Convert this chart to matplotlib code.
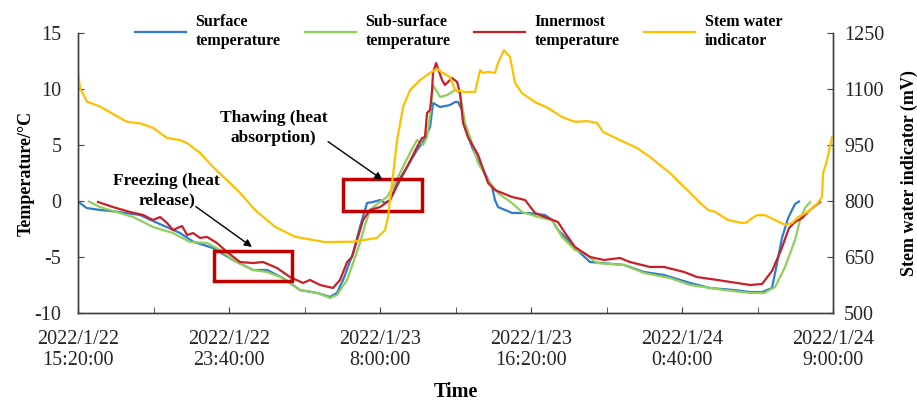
import pandas as pd
import numpy as np
import matplotlib
matplotlib.use('Agg')
import matplotlib.pyplot as plt
import matplotlib.dates as mdates
from matplotlib.patches import Rectangle

plt.rcParams['font.family'] = ['Liberation Serif', 'DejaVu Serif']
plt.rcParams['axes.unicode_minus'] = False

# elapsed hours since 2022/1/22 15:20:00, value
surface = [(0, -0.06), (0.48, -0.63), (1.21, -0.80), (2.15, -0.96), (3.42, -1.25), (4.14, -1.79),
           (5.63, -2.86), (6.35, -3.63), (7.45, -4.20), (8.55, -5.27), (9.66, -6.16), (10.43, -6.16),
           (11.31, -6.88), (12.25, -7.95), (13.19, -8.21), (13.91, -8.57), (14.29, -8.21), (14.63, -7.05),
           (15.18, -4.64), (15.56, -2.32), (15.95, -0.18), (16.28, -0.09), (16.67, 0.09), (16.94, -0.18),
           (17.22, 0.09), (17.61, 1.61), (18.16, 3.04), (18.71, 4.55), (19.04, 5.27), (19.43, 6.61),
           (19.59, 8.75), (19.98, 8.39), (20.53, 8.57), (20.81, 8.84), (20.97, 8.84), (21.19, 8.13),
           (21.36, 6.61), (21.74, 4.82), (22.08, 3.66), (22.85, 1.25), (23.01, 0.09), (23.18, -0.54),
           (23.57, -0.80), (23.95, -1.07), (24.84, -1.07), (25.77, -1.25), (26.16, -1.70), (26.49, -2.59),
           (27.04, -3.48), (27.54, -4.38), (28.26, -5.45), (30.13, -5.71), (31.24, -6.34), (32.34, -6.61),
           (33.78, -7.32), (34.88, -7.77), (36.20, -7.95), (37.09, -8.13), (37.75, -8.13), (38.30, -7.77),
           (38.58, -5.54), (38.85, -3.30), (39.19, -1.52), (39.57, -0.27), (39.79, -0.04)]

sub_surface = [(0.61, -0.06), (1.21, -0.54), (3.04, -1.43), (4.14, -2.32), (5.24, -2.86), (6.18, -3.66),
               (7.12, -3.75), (7.84, -4.38), (8.55, -5.27), (9.66, -6.16), (10.43, -6.34), (11.31, -6.88),
               (12.25, -7.95), (13.19, -8.21), (13.91, -8.66), (14.29, -8.39), (14.85, -7.05), (15.18, -5.54),
               (15.56, -3.75), (15.84, -2.14), (16.12, -0.80), (16.50, -0.27), (17.05, 0.36), (17.38, 1.25),
               (17.94, 3.04), (18.32, 4.29), (18.71, 5.45), (19.04, 5.00), (19.26, 5.71), (19.43, 7.68),
               (19.59, 10.36), (19.98, 9.29), (20.37, 9.46), (20.81, 9.91), (21.08, 9.64), (21.36, 6.96),
               (21.74, 5.18), (22.08, 3.39), (22.63, 1.88), (23.18, 0.71), (23.95, -0.18), (24.50, -0.98),
               (25.39, -1.43), (26.16, -1.70), (26.71, -3.21), (27.43, -4.38), (27.93, -4.64), (28.64, -5.54),
               (30.13, -5.71), (31.24, -6.43), (32.67, -6.88), (33.78, -7.50), (35.65, -7.95), (37.09, -8.21),
               (37.86, -8.21), (38.47, -7.68), (39.02, -5.89), (39.57, -3.48), (39.85, -1.70), (40.12, -0.63),
               (40.40, -0.09)]

innermost = [(1.10, -0.09), (1.93, -0.54), (2.87, -0.98), (3.59, -1.25), (4.14, -1.70), (4.53, -1.43),
             (4.91, -1.96), (5.24, -2.59), (5.74, -2.23), (6.02, -3.04), (6.35, -2.86), (6.73, -3.30),
             (7.12, -3.21), (7.67, -3.75), (8.22, -4.55), (8.94, -5.45), (9.66, -5.54), (10.21, -5.45),
             (10.98, -5.98), (11.70, -6.79), (12.42, -7.32), (12.80, -7.05), (13.36, -7.50), (14.07, -7.77),
             (14.46, -7.05), (14.85, -5.45), (15.12, -5.00), (15.40, -3.48), (15.73, -1.70), (16.12, -0.80),
             (16.67, -0.54), (17.22, 0.09), (17.77, 1.88), (18.16, 3.04), (18.71, 4.82), (18.99, 5.63),
             (19.15, 5.71), (19.26, 7.86), (19.43, 8.13), (19.54, 9.91), (19.59, 11.43), (19.76, 12.32),
             (20.09, 10.80), (20.25, 10.36), (20.64, 10.98), (20.92, 10.63), (21.08, 9.64), (21.25, 6.96),
             (21.52, 5.71), (22.08, 4.11), (22.63, 1.61), (23.01, 0.98), (23.95, 0.36), (24.67, 0.09),
             (25.22, -1.07), (25.77, -1.43), (26.49, -1.88), (26.88, -2.86), (27.43, -4.11), (28.26, -5.00),
             (29.03, -5.27), (29.91, -5.09), (30.46, -5.45), (31.57, -5.89), (32.34, -5.89), (33.45, -6.34),
             (34.16, -6.79), (35.27, -7.05), (36.37, -7.32), (37.09, -7.50), (37.75, -7.41), (38.30, -6.25),
             (38.80, -4.38), (39.24, -2.41), (39.57, -1.88), (39.96, -1.52), (40.40, -0.80), (40.95, -0.09)]

stem_water = [(0, 1145), (0.11, 1103), (0.50, 1066), (1.21, 1053), (2.70, 1012), (3.42, 1008), (4.14, 996),
              (4.53, 982), (4.91, 969), (5.63, 963), (6.02, 955), (6.73, 929), (7.45, 891), (8.22, 856),
              (8.94, 822), (9.77, 776), (10.87, 731), (11.98, 704), (13.63, 690), (15.18, 691), (16.50, 701),
              (16.94, 722), (17.11, 757), (17.33, 848), (17.61, 963), (17.94, 1052), (18.32, 1097),
              (18.88, 1124), (19.43, 1143), (19.81, 1154), (20.14, 1143), (20.53, 1132), (20.81, 1097),
              (21.36, 1092), (21.91, 1092), (22.19, 1151), (22.35, 1143), (22.63, 1146), (23.01, 1143),
              (23.18, 1170), (23.51, 1204), (23.84, 1186), (24.12, 1116), (24.50, 1089), (25.22, 1065),
              (25.94, 1049), (26.71, 1025), (27.43, 1012), (28.09, 1014), (28.64, 1009), (28.98, 985),
              (29.91, 963), (30.85, 942), (31.57, 918), (32.12, 896), (32.67, 875), (33.22, 848), (33.78, 822),
              (34.33, 795), (34.77, 776), (35.16, 771), (35.87, 749), (36.65, 741), (36.92, 743), (37.20, 754),
              (37.47, 762), (37.92, 762), (38.47, 749), (39.02, 736), (39.41, 741), (39.74, 757), (40.29, 771),
              (40.84, 795), (41.06, 811), (41.12, 875), (41.34, 910), (41.50, 945), (41.61, 971)]

start = pd.Timestamp('2022-01-22 15:20:00')
end = pd.Timestamp('2022-01-24 09:00:00')


def to_series(pairs):
    h, v = zip(*pairs)
    return start + pd.to_timedelta(np.array(h), unit='h'), np.array(v)


def tnum(hours):
    return mdates.date2num(start + pd.Timedelta(hours=hours))


fig = plt.figure(figsize=(9.17, 4.05), dpi=100)
ax = fig.add_axes([0.0851, 0.2272, 0.8233, 0.6913])
ax2 = ax.twinx()

t, v = to_series(surface)
l1, = ax.plot(t, v, color='#2E7BCF', lw=1.6, label='Surface\ntemperature')
t, v = to_series(sub_surface)
l2, = ax.plot(t, v, color='#8FD05A', lw=1.6, label='Sub-surface\ntemperature')
t, v = to_series(innermost)
l3, = ax.plot(t, v, color='#C8202A', lw=1.6, label='Innermost\ntemperature')
t, v = to_series(stem_water)
l4, = ax2.plot(t, v, color='#FFC000', lw=1.6, label='Stem water\nindicator')

ax.set_ylim(-10, 15)
ax.set_yticks(np.arange(-10, 16, 5))
ax2.set_ylim(500, 1250)
ax2.set_yticks(np.arange(500, 1251, 150))
ax.set_xlim(start, end)

major = pd.date_range(start, periods=6, freq='500min')
minor = pd.date_range(start + pd.Timedelta('250min'), periods=5, freq='500min')
ax.set_xticks(major)
ax.set_xticklabels(['%d/%d/%d\n%d:%02d:00' % (d.year, d.month, d.day, d.hour, d.minute) for d in major])
ax.set_xticks(minor, minor=True)

spine_c = '#404040'
for a in (ax, ax2):
    a.spines['top'].set_visible(False)
    for s in ('left', 'right', 'bottom'):
        a.spines[s].set_color(spine_c)
        a.spines[s].set_linewidth(1.0)
    a.tick_params(which='both', direction='in', length=4, color=spine_c, labelsize=14.5, labelcolor='#262626')
ax.tick_params(axis='x', pad=12)
ax.tick_params(axis='y', pad=12)
ax2.tick_params(axis='y', pad=8)

ax.set_xlabel('Time', fontsize=14.5, fontweight='bold', labelpad=8)
ax.set_ylabel('Temperature/°C', fontsize=13, fontweight='bold', labelpad=0)
ax2.set_ylabel('Stem water indicator (mV)', fontsize=13, fontweight='bold', labelpad=12)

# annotation boxes and arrows, drawn above the lines
box_c = '#C00000'
ax2.add_patch(Rectangle((tnum(7.5), -7.15), tnum(11.8) - tnum(7.5), 2.7, transform=ax.transData,
                        fill=False, edgecolor=box_c, lw=2.5))
ax2.add_patch(Rectangle((tnum(14.6), -0.9), tnum(19.0) - tnum(14.6), 2.85, transform=ax.transData,
                        fill=False, edgecolor=box_c, lw=2.5))

arrow = dict(arrowstyle='-|>', color='black', lw=1.0, shrinkA=0, shrinkB=0, mutation_scale=11)
ax2.annotate('', xy=(tnum(9.6), -4.1), xytext=(tnum(6.5), -0.5),
             xycoords=ax.transData, textcoords=ax.transData, arrowprops=arrow)
ax2.annotate('', xy=(tnum(16.8), 1.9), xytext=(tnum(13.8), 5.3),
             xycoords=ax.transData, textcoords=ax.transData, arrowprops=arrow)
ax2.text(tnum(4.9), 0.9, 'Freezing (heat\nrelease)', transform=ax.transData, ha='center', va='center',
         fontsize=12.5, fontweight='bold', linespacing=1.3)
ax2.text(tnum(10.8), 6.5, 'Thawing (heat\nabsorption)', transform=ax.transData, ha='center', va='center',
         fontsize=12.5, fontweight='bold', linespacing=1.3)

fig.legend(handles=[l1, l2, l3, l4], loc='upper center', bbox_to_anchor=(0.5, 1.0), ncol=4,
           frameon=False, prop={'weight': 'bold', 'size': 11.5}, handlelength=3.2,
           columnspacing=1.5, handletextpad=0.6)

fig.savefig('out.png', dpi=100, facecolor='white')
